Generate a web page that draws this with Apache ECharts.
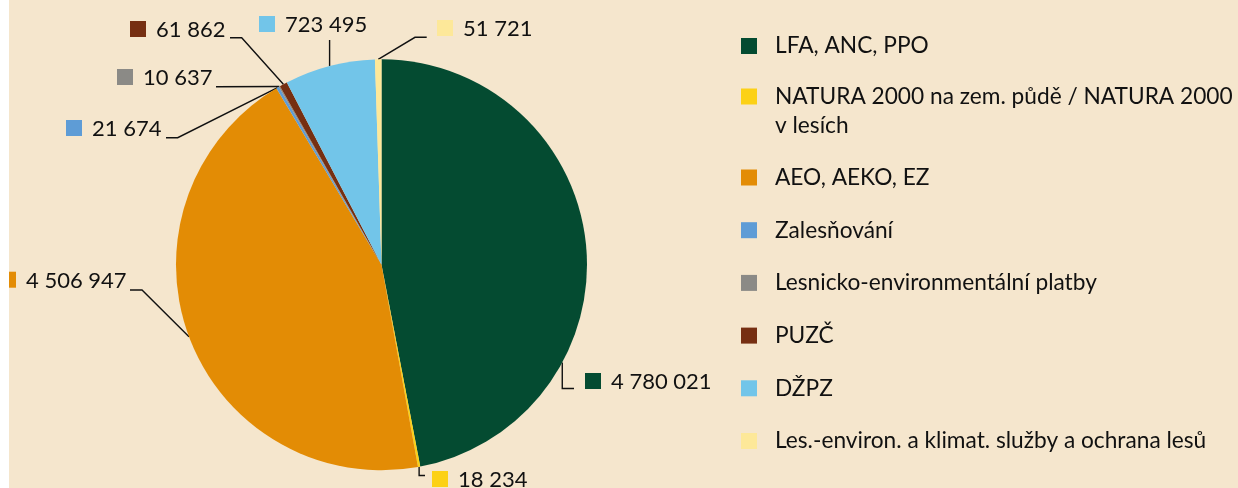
<!DOCTYPE html>
<html><head><meta charset="utf-8">
<script src="https://cdn.jsdelivr.net/npm/echarts@6/dist/echarts.min.js"></script>
<style>html,body{margin:0;padding:0;background:#fff}#c{width:1238px;height:488px}</style>
</head><body><div id="c"></div>
<script>
// ---- data ----
const categories = ['LFA, ANC, PPO', 'NATURA 2000 na zem. půdě / NATURA 2000 v lesích', 'AEO, AEKO, EZ', 'Zalesňování', 'Lesnicko-environmentální platby', 'PUZČ', 'DŽPZ', 'Les.-environ. a klimat. služby a ochrana lesů'];
const values = [4780021, 18234, 4506947, 21674, 10637, 61862, 723495, 51721];
const legendLabels = ['LFA, ANC, PPO', 'NATURA 2000 na zem. půdě / NATURA 2000\nv lesích', 'AEO, AEKO, EZ', 'Zalesňování', 'Lesnicko-environmentální platby', 'PUZČ', 'DŽPZ', 'Les.-environ. a klimat. služby a ochrana lesů'];

// ---- styles / layout ----
const colors = ['#044b31', '#fcd116', '#e38c05', '#5e9cd6', '#8b8a86', '#762f12', '#72c5e9', '#fde899'];
const FONT = 'Lato';
const TXT = '#111111';
const LEG_FS = 22.7;
const CX = 381.5, CY = 264.8, R = 205.5;
const labelPos = [[585, 381], [432, 479], [0, 279.7], [66, 128], [117, 77], [130, 29], [259, 24], [437, 28]];
const leaderBends = [
  [[null, 388.5], [574, 388.5]],
  [[null, 475.5], [425, 475.5]],
  [[142, 290], [130, 290]],
  [[177.7, 137.7], [166, 137.7]],
  [[216, 86.7]],
  [[241.7, 37.7], [230, 37.7]],
  [[null, 40]],
  [[415, 37.3], [426.7, 37.3]]
];
const anchorAngleOverride = {0: 118.4};

const total = values.reduce((a, b) => a + b, 0);
const midAngles = [];
let acc = 0;
values.forEach(v => { midAngles.push((acc + v / 2) / total * 360); acc += v; });
function anchor(i) {
  const a = (anchorAngleOverride[i] != null ? anchorAngleOverride[i] : midAngles[i]) * Math.PI / 180;
  return [CX + R * Math.sin(a), CY - R * Math.cos(a)];
}
function fmt(v) { return String(v).replace(/\B(?=(\d{3})+(?!\d))/g, ' '); }

const rich = { v: { fontFamily: FONT, fontSize: 22, color: TXT, padding: [2, 0, 0, 10], lineHeight: 22 } };
colors.forEach((c, i) => { rich['m' + i] = { width: 16, height: 16, backgroundColor: c }; });

const chart = echarts.init(document.getElementById('c'), null, { renderer: 'canvas' });
const legendBase = {
  orient: 'vertical', left: 741, padding: 0, itemWidth: 16, itemHeight: 16, icon: 'rect',
  selectedMode: false
};
chart.setOption({
  animation: false,
  backgroundColor: '#f5e6cd',
  legend: [
    Object.assign({}, legendBase, { top: 34.5, data: [categories[0]],
      formatter: name => legendLabels[categories.indexOf(name)],
      textStyle: { fontFamily: FONT, fontSize: LEG_FS, color: TXT, lineHeight: 22, padding: [0, 0, 0, 13] } }),
    Object.assign({}, legendBase, { top: 53, data: [categories[1]],
      // leading empty line keeps the first text line level with the marker
      formatter: name => '\n' + legendLabels[categories.indexOf(name)],
      textStyle: { fontFamily: FONT, fontSize: LEG_FS, color: TXT, lineHeight: 29, padding: [0, 0, 0, 13] } }),
    Object.assign({}, legendBase, { top: 166, itemGap: 29.7, data: categories.slice(2),
      formatter: name => legendLabels[categories.indexOf(name)],
      textStyle: { fontFamily: FONT, fontSize: LEG_FS, color: TXT, lineHeight: 22, padding: [0, 0, 0, 13] } })
  ],
  graphic: [{ type: 'rect', left: 0, top: 0, z: 100, shape: { width: 9, height: 488 }, style: { fill: '#ffffff' } }],
  series: [{
    type: 'pie',
    center: [CX, CY],
    radius: R,
    startAngle: 90,
    clockwise: true,
    avoidLabelOverlap: false,
    minShowLabelAngle: 0,
    emphasis: { disabled: true },
    itemStyle: { borderWidth: 0 },
    label: {
      show: true, position: 'outside',
      formatter: p => '{m' + p.dataIndex + '|}{v|' + fmt(p.value) + '}',
      rich: rich
    },
    labelLine: { show: true, length: 10, length2: 10, lineStyle: { color: '#111', width: 1.4 } },
    labelLayout: function (params) {
      const i = params.dataIndex;
      const s = anchor(i);
      const pts = [s];
      leaderBends[i].forEach(b => pts.push([b[0] == null ? s[0] : b[0], b[1]]));
      return { x: labelPos[i][0], y: labelPos[i][1], align: 'left', verticalAlign: 'middle', labelLinePoints: pts };
    },
    data: categories.map((n, i) => ({ name: n, value: values[i], itemStyle: { color: colors[i] } }))
  }]
});
</script></body></html>
